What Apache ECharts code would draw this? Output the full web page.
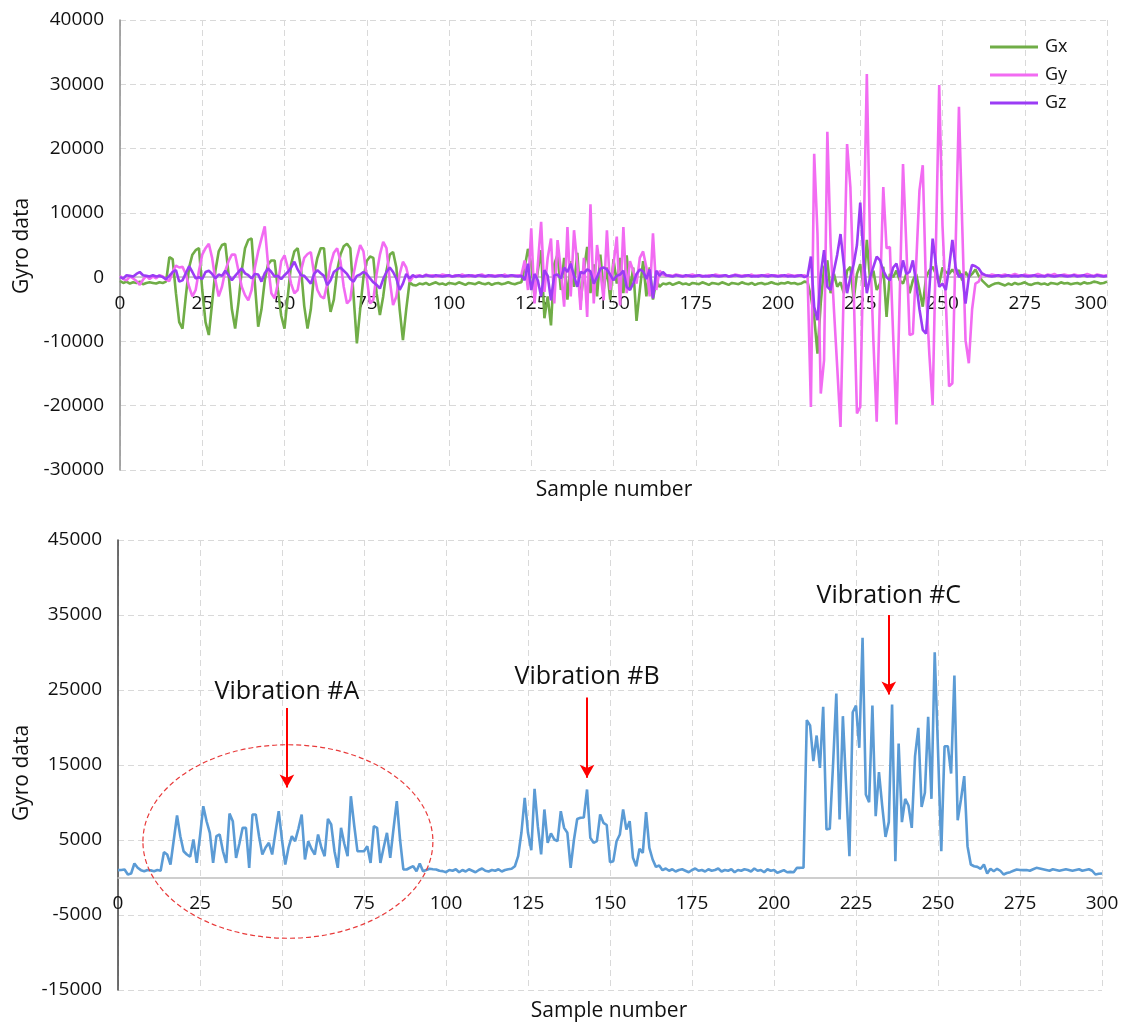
<!DOCTYPE html>
<html><head><meta charset="utf-8">
<script src="https://cdn.jsdelivr.net/npm/echarts@6/dist/echarts.min.js"></script>
<style>html,body{margin:0;padding:0;background:#fff}#c{width:1132px;height:1023px}</style>
</head><body><div id="c"></div>
<script>
// ---- data (sample index = array position 0..300) ----
const gx = [
-600,-900,-700,-1000,-800,-900,-700,-1100,-900,-800,
-900,-1000,-800,-900,-700,3100,2800,-2500,-7000,-8000,
-3000,1500,3500,4200,4500,-2000,-7000,-9000,-4000,1000,
4000,5000,5200,500,-5000,-8000,-4000,1000,4500,5800,
6000,-1000,-7700,-5000,-500,2000,2600,2600,-2000,-6000,
-8000,-3000,2000,4000,4500,1500,-4500,-8000,-5000,500,
3000,4500,4500,-1500,-5400,-3500,1000,3500,4800,5200,
4500,-3000,-10300,-5000,0,2500,3200,3000,-2500,-5900,
-3000,1000,3500,3900,1500,-5000,-9800,-5000,-800,-1200,
-1300,-1000,-1100,-900,-1200,-1000,-800,-1100,-1000,-1200,
-900,-1000,-1100,-800,-1000,-1200,-900,-1000,-1100,-800,
-1000,-1100,-900,-1200,-1000,-900,-1100,-1000,-800,-1000,
-1100,-900,-800,1500,4400,2000,-3000,1000,4200,-6400,
-3000,-7500,2000,3500,-2000,3000,-3500,2500,-1500,3800,
-4000,1000,4700,-2500,2000,-3000,3500,-2000,1500,-3500,
2800,-1000,3000,-2500,3400,-2000,1500,-6800,-2000,2500,
-3000,1500,-3500,-500,-1500,-1000,-1100,-900,-1200,-1000,
-800,-1100,-1000,-1200,-900,-1000,-1100,-800,-1000,-1200,
-900,-1000,-1100,-800,-1000,-1200,-900,-1000,-1100,-800,
-1000,-1100,-900,-1200,-1000,-900,-1100,-1000,-800,-1000,
-1100,-900,-1000,-800,-1000,-900,-1100,-1000,-700,-800,
-3000,-6200,-11900,-4000,1500,2600,-2500,500,-1500,-800,
-2500,1000,1600,-3500,500,2000,-1500,5800,-500,1000,
-2000,-1000,1600,-6200,500,0,1000,-500,-1000,500,
-2500,-500,500,-2000,-4600,0,1000,1600,500,-1000,
1500,800,500,1200,500,1100,-500,800,0,500,
1200,200,-500,-1000,-1500,-1200,-1000,-900,-1100,-1300,
-1000,-1200,-900,-1100,-1000,-800,-1100,-1200,-1000,-900,
-1100,-1000,-1200,-900,-1000,-1100,-800,-1000,-900,-1100,
-1000,-900,-1100,-800,-1000,-900,-700,-800,-1000,-900,
-700];
const gy = [
200,-300,-500,100,-200,-600,-1200,-400,200,-300,
100,-200,300,100,-400,-600,800,1800,1500,1600,
500,-1500,-3000,-2000,1000,3500,4500,5200,3000,-500,
-3000,-1500,1000,2500,3500,3500,1000,-1500,-2800,-3600,
-2000,1500,4000,6000,7900,2000,-2500,-3300,-1000,2500,
3400,1500,-1000,-2500,-2000,1000,3000,3600,3900,500,
-2000,-3000,-3300,-1000,2000,3800,4500,2500,-1500,-4100,
-3500,500,3000,5000,4000,0,-4100,-3500,500,3500,
5500,4500,-500,-4350,-3000,500,2400,1500,-700,0,
200,300,100,400,200,300,100,200,400,300,
200,100,300,200,400,200,100,300,200,300,
400,200,100,300,200,300,200,400,100,300,
200,300,300,2600,-2000,7600,-4100,2000,8600,-2300,
3000,6000,-4100,5750,1000,-4600,7800,-3000,7300,2000,
-5100,3000,-6200,11350,-4100,5000,1000,-3600,7300,-2000,
2000,6300,-4400,7800,-2500,2500,1000,-1000,3000,4000,
1500,-3000,6800,-2000,1000,400,200,300,200,400,
300,200,100,300,400,200,300,200,100,300,
200,400,300,200,300,100,200,400,300,200,
300,200,400,100,300,200,300,400,200,300,
200,300,100,400,300,200,300,200,300,0,
-20200,19200,6800,-18100,-12900,22600,5000,-5000,-14000,-23300,
-1300,20700,14000,-2000,-21200,-20200,5000,31600,4700,-10000,
-22500,-3000,14000,4500,4700,-9000,-22900,-3000,17600,5000,
-9000,-8800,2000,13500,17400,-2000,-12000,-19900,5000,29900,
8000,-3500,-17000,-16500,5000,26500,8000,-9800,-13400,-5000,
-1000,-700,570,300,200,400,300,200,300,400,
200,300,500,300,200,400,300,200,300,500,
300,200,400,300,500,200,300,400,300,200,
400,300,200,300,500,300,200,400,300,200,
300];
const gz = [
0,-200,300,200,100,500,800,300,200,100,
300,100,200,0,-300,200,800,1100,-700,-500,
600,1700,800,-200,0,-300,800,1000,500,-200,
400,200,1000,300,-470,200,800,1350,600,300,
-200,500,400,-700,600,1350,800,100,200,-300,
300,800,1500,2400,1200,300,200,-400,-1000,500,
1100,600,200,-1250,-500,800,1200,1500,1000,500,
-300,-700,200,400,800,500,-200,-800,-1200,-1760,
-300,800,1500,800,-200,-2000,-1000,500,-200,300,
0,200,100,300,200,100,300,200,100,200,
300,100,200,300,100,200,300,200,100,300,
200,100,300,200,100,200,300,100,200,300,
200,100,200,-500,2100,-2000,500,-500,-3000,1100,
200,-3600,300,400,-200,1500,800,2100,200,-1500,
800,600,1200,900,-1000,0,1300,1500,1200,400,
-500,200,400,1000,-1500,-2000,-1000,500,1200,900,
-300,1200,-3300,1000,200,800,300,200,100,300,
200,100,300,200,100,200,300,100,200,100,
300,200,100,200,300,100,200,300,200,100,
200,300,100,200,100,300,200,100,300,200,
100,200,300,100,200,100,200,300,0,200,
3200,-4600,-6700,500,4200,-1500,-2000,1000,3500,6700,
2000,-2500,0,2000,5000,11600,3000,-2500,0,1600,
3200,2600,1000,0,-500,1500,2100,0,2600,500,
800,2600,-1000,-5000,-8200,-8800,-2000,6000,2000,-1500,
-1000,-2000,1500,5800,1500,0,500,-4100,0,1900,
1700,1350,570,300,200,100,200,300,100,200,
300,100,200,100,300,200,100,200,300,100,
200,100,300,200,100,200,300,200,100,200,
300,100,200,300,100,200,100,300,200,100,
200];
const mag = [
980,1000,1070,400,530,1870,1300,980,840,1000,
950,840,1000,900,3380,3070,1730,5000,8270,5510,
3500,3070,2760,5070,1950,5500,9500,7500,5960,1950,
5510,5730,3500,1950,8530,7510,2620,4500,6620,6620,
1290,8400,8400,5500,3070,4000,4620,3070,6000,8840,
5000,1730,4000,5510,4840,6500,8400,2400,4840,3800,
3070,5730,4000,2840,7820,7070,3500,1290,6620,4500,
2840,10840,7000,3510,3500,3510,4180,1950,6840,6620,
1950,4000,5960,2620,6500,10180,5000,1070,1070,1300,
1510,840,1870,840,1000,1160,1100,1070,900,850,
710,1000,900,1100,700,1000,800,1100,900,700,
1000,1200,900,800,1000,900,1100,800,1000,1100,
1160,1500,2840,6000,10620,5960,3640,11820,6840,3070,
9070,4620,5870,5070,4840,8840,6620,5960,1290,5000,
7800,7960,8000,11730,5290,4620,4840,8400,7290,7000,
2040,2180,4840,5730,9070,6400,7510,2620,1510,3820,
3290,8710,3960,2400,1420,1600,980,1200,900,1100,
800,1000,1100,900,700,1000,1200,900,1000,800,
1100,900,1000,1200,800,1000,900,1100,700,1000,
900,1100,1000,800,1200,900,1000,700,1100,900,
1000,620,800,980,700,750,700,1290,1290,1300,
20980,20270,15510,18930,14620,22760,6400,6490,15000,24530,
7730,21510,12000,2840,22040,22930,17290,31960,11070,10040,
22930,8180,14040,9510,5420,7380,23070,2180,17870,7380,
10490,9600,6620,16180,19960,9420,11290,21420,10490,30040,
17000,3510,17510,17510,13870,26930,7640,10400,13510,4180,
1730,1500,1420,1160,1730,530,1160,840,1160,900,
400,600,710,900,1070,1000,980,1000,900,1100,
1290,1200,1100,1000,900,1100,1000,900,1000,1100,
1000,900,1000,1100,900,1000,1100,900,400,500,
530];
const seriesNames = ['Gx','Gy','Gz'];
const annoLabels = ['Vibration #A','Vibration #B','Vibration #C'];
// annotation anchors in data units of lower chart: [x, textY, arrowStartY, arrowEndY]
const annoAnchors = [[51.5,24700,22600,12000],[143,26800,24000,13300],[235,37600,35000,24400]];
const ellipseA = {cx:51.8, cy:4800, rx:44.2, ry:12900};
const topRange = [-30000, 40000];
const botRange = [-15000, 45000];

const FONT = '"Open Sans", sans-serif';
const toPairs = a => a.map((v,i)=>[i,v]);
const gridColor = '#d9d9d9';
const grids = [
  {left:120, top:20, width:987, height:450},
  {left:118, top:540, width:984, height:450}
];

const chart = echarts.init(document.getElementById('c'), null, {renderer:'canvas'});

function xAxisCfg(gi, range, alignRight){
  // place the x axis (line + labels) at value 0 of the y scale
  const off = -grids[gi].height * (0 - range[0]) / (range[1] - range[0]);
  return {
    type:'value', gridIndex:gi, min:0, max:300, interval:25, position:'bottom', offset:off,
    axisLine:{show:true, onZero:false, lineStyle:{color:'#bfbfbf', width:1.5}},
    axisTick:{show:false},
    axisLabel:{fontFamily:FONT, fontSize:19, color:'#111', margin:17, alignMaxLabel: alignRight ? 'right' : null},
    splitLine:{show:true, lineStyle:{color:gridColor, type:[6,4], width:1}}
  };
}
function yAxisCfg(gi, range, lineColor){
  return {
    type:'value', gridIndex:gi, min:range[0], max:range[1], interval:10000,
    axisLine:{show:true, onZero:false, lineStyle:{color:lineColor, width:1.5}},
    axisTick:{show:false},
    axisLabel:{fontFamily:FONT, fontSize:19, color:'#111', margin:16, formatter: v => String(v)},
    splitLine:{show:true, lineStyle:{color:gridColor, type:[6,4], width:1}}
  };
}

const colors = ['#70ad47','#f26bf2','#9b3cf5'];
const topSeries = [gx, gy, gz].map((d,k)=>({
  name: seriesNames[k], type:'line', xAxisIndex:0, yAxisIndex:0,
  data: toPairs(d), symbol:'none', smooth:false,
  lineStyle:{color:colors[k], width:2.6}, itemStyle:{color:colors[k]},
  z: 2 + k, animation:false
}));
const magSeries = {
  name:'mag', type:'line', xAxisIndex:1, yAxisIndex:1, data: toPairs(mag),
  symbol:'none', lineStyle:{color:'#5b9bd5', width:2.6}, itemStyle:{color:'#5b9bd5'},
  animation:false,
  markLine:{
    silent:true, symbol:['none','arrow'], symbolSize:[11,13], animation:false,
    lineStyle:{color:'#ff0000', width:2, type:'solid'}, label:{show:false},
    data: annoAnchors.map(a=>[{coord:[a[0],a[2]]},{coord:[a[0],a[3]]}])
  }
};

chart.setOption({
  backgroundColor:'#fff',
  animation:false,
  grid:grids,
  xAxis:[xAxisCfg(0,topRange,true), xAxisCfg(1,botRange,false)],
  yAxis:[yAxisCfg(0,topRange,'#8c8c8c'), yAxisCfg(1,botRange,'#404040')],
  legend:{
    data:seriesNames, orient:'vertical', left:985, top:33,
    itemWidth:48, itemHeight:3, itemGap:10, icon:'rect',
    textStyle:{fontFamily:FONT, fontSize:18, color:'#111', padding:[0,0,0,2]}
  },
  series:[...topSeries, magSeries]
});

// axis titles and annotations (positioned through the chart's own scales)
function px(x,y){ return chart.convertToPixel({xAxisIndex:1, yAxisIndex:1},[x,y]); }
const g = [];
const titleStyle = {fontFamily:FONT, fontSize:21, fill:'#111'};
g.push({type:'text', x:22, y:246, rotation:Math.PI/2, style:Object.assign({text:'Gyro data', align:'center', verticalAlign:'middle'}, titleStyle)});
g.push({type:'text', x:22, y:773, rotation:Math.PI/2, style:Object.assign({text:'Gyro data', align:'center', verticalAlign:'middle'}, titleStyle)});
g.push({type:'text', x:614, y:490, style:Object.assign({text:'Sample number', align:'center', verticalAlign:'middle'}, titleStyle)});
g.push({type:'text', x:609, y:1011, style:Object.assign({text:'Sample number', align:'center', verticalAlign:'middle'}, titleStyle)});
annoAnchors.forEach((a,k)=>{
  const p = px(a[0], a[1]);
  g.push({type:'text', x:p[0], y:p[1], style:{text:annoLabels[k], align:'center', verticalAlign:'middle', fontFamily:FONT, fontSize:25, fill:'#111'}});
});
const c0 = px(ellipseA.cx, ellipseA.cy);
const c1 = px(ellipseA.cx + ellipseA.rx, ellipseA.cy + ellipseA.ry);
g.push({type:'ellipse', shape:{cx:c0[0], cy:c0[1], rx:Math.abs(c1[0]-c0[0]), ry:Math.abs(c0[1]-c1[1])},
  style:{fill:null, stroke:'#e83a3a', lineWidth:1.2, lineDash:[5,3]}, z:10});
chart.setOption({graphic:g});
</script></body></html>
